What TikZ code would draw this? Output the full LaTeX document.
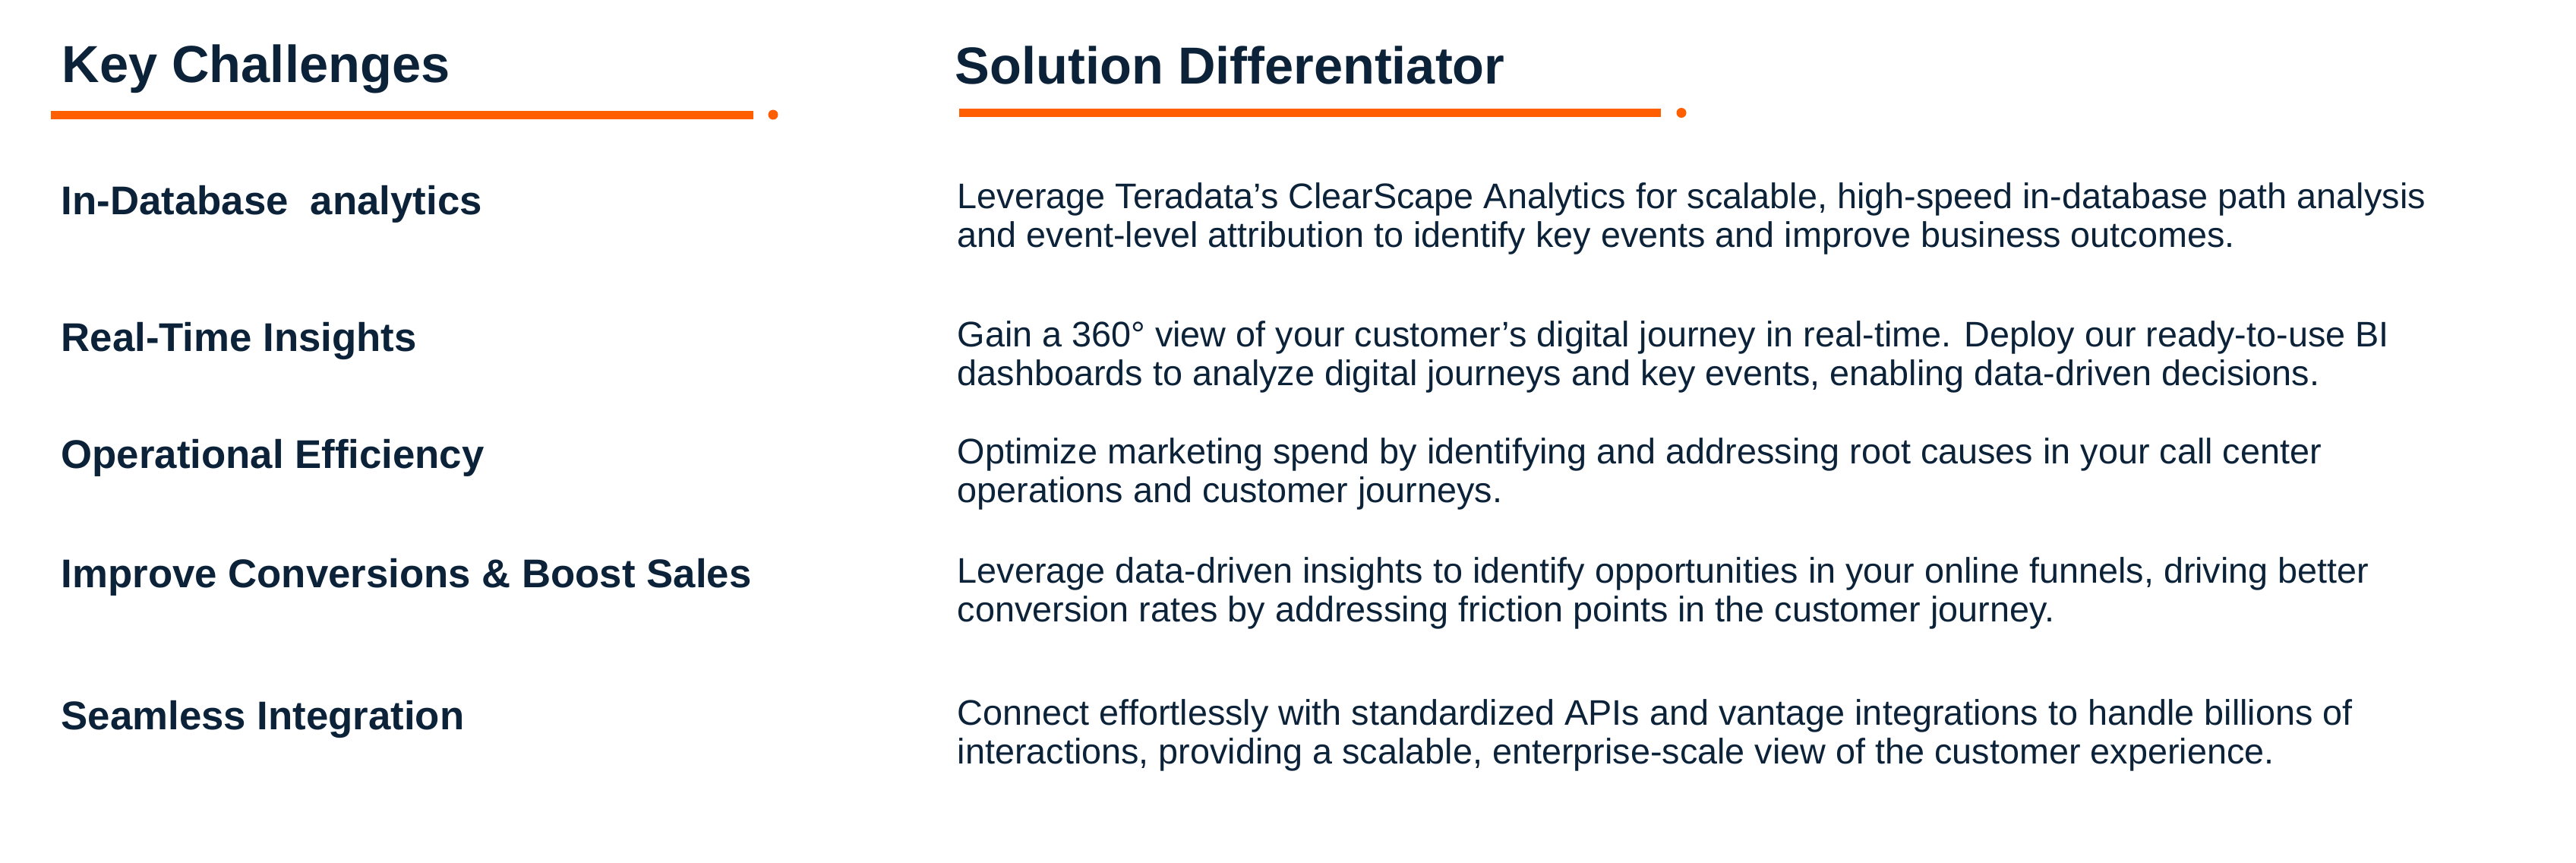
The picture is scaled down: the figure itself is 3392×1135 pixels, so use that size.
\documentclass[tikz,border=0pt]{standalone}
\usepackage{fontspec}
\setmainfont{Liberation Sans}
\definecolor{navy}{HTML}{0B2239}
\definecolor{tdorange}{HTML}{FF5F00}
\begin{document}
\begin{tikzpicture}[x=0.01cm, y=-0.01cm,
    head/.style={anchor=base west, inner sep=0pt, text=navy, font=\fontsize{19.5}{23}\selectfont\bfseries},
    challenge/.style={anchor=base west, inner sep=0pt, text=navy, font=\fontsize{15}{18}\selectfont\bfseries},
    detail/.style={anchor=base west, inner sep=0pt, text=navy, align=left, font=\fontsize{13.3}{14.5}\selectfont},
    bar/.style={fill=tdorange}]
    \useasboundingbox[fill=white] (0,0) rectangle (3392,1135);
    % headers
    \node[head] (h1) at (81,108) {Key Challenges};
    \node[head] (h2) at (1257,110) {Solution Differentiator};
    \fill[bar] (67,146) rectangle (992,157);
    \fill[bar] (1018,151) circle (6.5);
    \fill[bar] (1263,143) rectangle (2187,154);
    \fill[bar] (2214,148.5) circle (6.5);
    % left column
    \node[challenge] (c1) at (80,282) {In-Database \ analytics};
    \node[challenge] (c2) at (80,462) {Real-Time Insights};
    \node[challenge] (c3) at (80,616) {Operational Efficiency};
    \node[challenge] (c4) at (80,773) {Improve Conversions \& Boost Sales};
    \node[challenge] (c5) at (80,960) {Seamless Integration};
    % right column (anchored on the second line)
    \node[detail] (d1) at (1260,325) {Leverage Teradata’s ClearScape Analytics for scalable, high-speed in-database path analysis\\and event-level attribution to identify key events and improve business outcomes.};
    \node[detail] (d2) at (1260,507) {Gain a 360° view of your customer’s digital journey in real-time. Deploy our ready-to-use BI\\dashboards to analyze digital journeys and key events, enabling data-driven decisions.};
    \node[detail] (d3) at (1260,661) {Optimize marketing spend by identifying and addressing root causes in your call center\\operations and customer journeys.};
    \node[detail] (d4) at (1260,818) {Leverage data-driven insights to identify opportunities in your online funnels, driving better\\conversion rates by addressing friction points in the customer journey.};
    \node[detail] (d5) at (1260,1005) {Connect effortlessly with standardized APIs and vantage integrations to handle billions of\\interactions, providing a scalable, enterprise-scale view of the customer experience.};
\end{tikzpicture}
\end{document}
